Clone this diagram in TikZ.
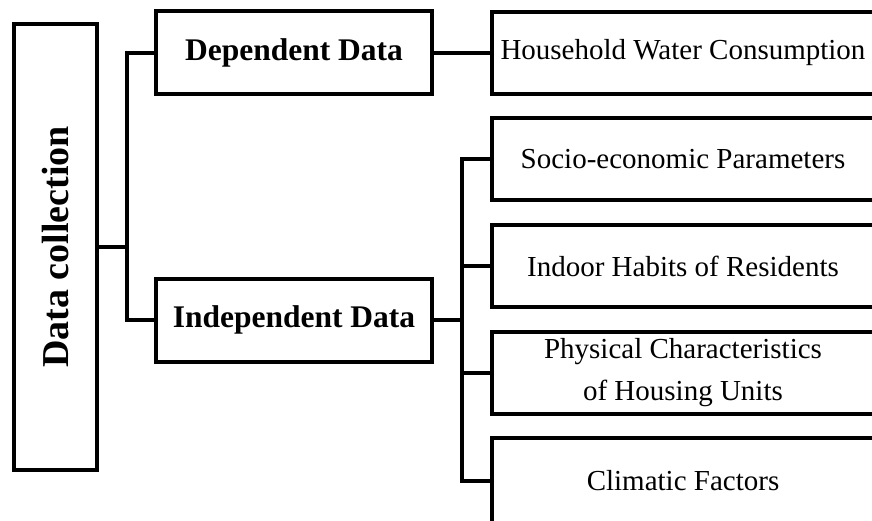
\documentclass[tikz,border=0pt]{standalone}
\usepackage{fontspec}
\setmainfont{Liberation Serif}
\begin{document}
\begin{tikzpicture}[x=1pt,y=-1pt,
    box/.style={draw, line width=4pt, inner sep=0pt, align=center},
    leaf/.style={box, minimum width=382pt, minimum height=82pt, font=\fontsize{29}{42}\selectfont},
    group/.style={box, minimum width=276pt, minimum height=83pt, font=\fontsize{31.5}{38}\selectfont\bfseries},
    link/.style={line width=4pt}]
            % 画布范围 (右侧和底部的框被裁掉)
            \path[use as bounding box] (0,0) rectangle (872,521);
            \clip (0,0) rectangle (872,521);

            % 左侧总框
            \node[box, rotate=90, minimum width=446pt, minimum height=83pt,
                  font=\fontsize{38}{44}\selectfont\bfseries] (dc) at (55.5,247) {Data collection};

            % 中间两类数据
            \node[group] (dep) at (294,53) {Dependent Data};
            \node[group] (ind) at (294,320) {Independent Data};

            % 右侧各项
            \node[leaf] (hh) at (683,53) {Household Water Consumption};
            \node[leaf] (socio) at (683,159.5) {Socio-economic Parameters};
            \node[leaf] (indoor) at (683,266) {Indoor Habits of Residents};
            \node[leaf] (phys) at (683,373) {Physical Characteristics\\of Housing Units};
            \node[leaf, minimum height=86pt] (clim) at (683,481) {Climatic Factors};

            % 连线
            \coordinate (j1) at (127,247);
            \coordinate (j2) at (462,320);
            \draw[link] (dc.south) -- (j1);
            \draw[link] (dep.west) -| (j1) |- (ind.west);
            \draw[link] (dep.east) -- (hh.west);
            \draw[link] (ind.east) -- (j2);
            \draw[link] (socio.west) -| (j2) |- (clim.west);
            \foreach \n in {indoor,phys} {
                \draw[link] (j2 |- \n.west) -- (\n.west);
            }
\end{tikzpicture}
\end{document}
